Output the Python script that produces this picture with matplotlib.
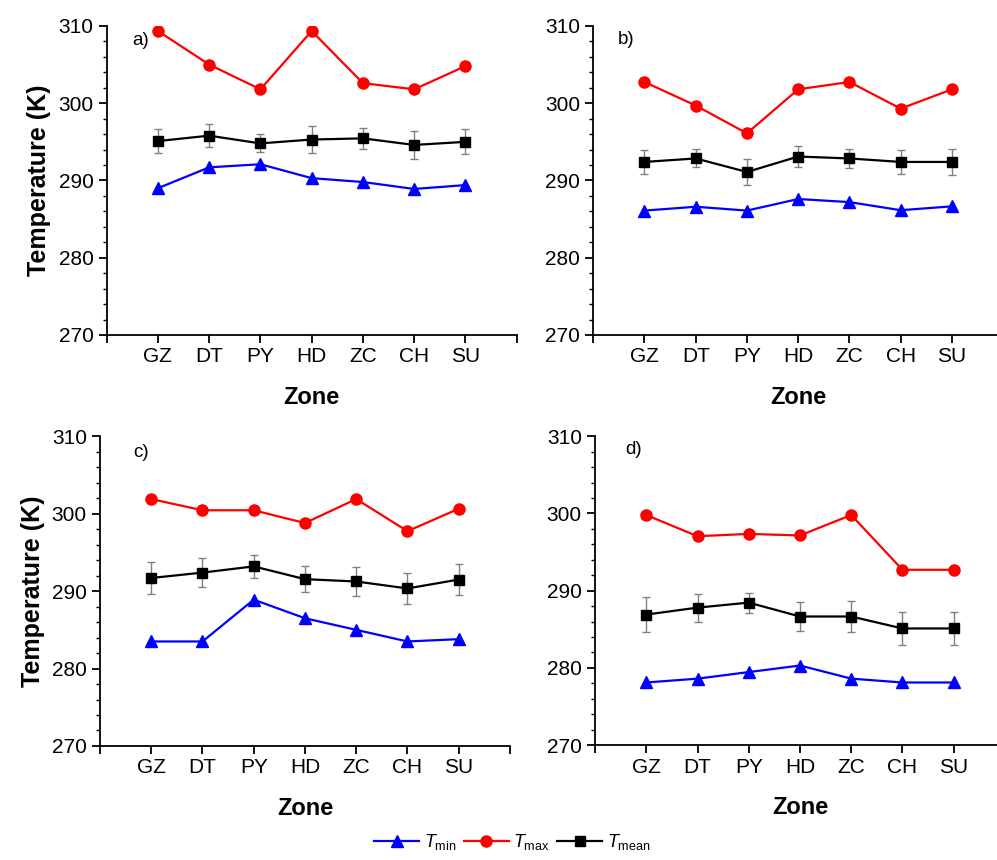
import numpy as np
import matplotlib
matplotlib.use("Agg")
import matplotlib.pyplot as plt

plt.rcParams['font.family'] = ['Liberation Sans', 'DejaVu Sans']
plt.rcParams['mathtext.fontset'] = 'custom'
plt.rcParams['mathtext.rm'] = 'Liberation Sans'
plt.rcParams['mathtext.it'] = 'Liberation Sans:italic'

zones = ['GZ', 'DT', 'PY', 'HD', 'ZC', 'CH', 'SU']
panel_labels = ['a)', 'b)', 'c)', 'd)']

# values (K)
tmax_a = [309.35, 305.0, 301.8, 309.35, 302.6, 301.8, 304.8]
tmean_a = [295.1, 295.8, 294.8, 295.3, 295.45, 294.6, 295.0]
err_a = [1.6, 1.5, 1.17, 1.7, 1.4, 1.86, 1.6]
tmin_a = [289.0, 291.7, 292.1, 290.3, 289.8, 288.9, 289.4]

tmax_b = [302.75, 299.7, 296.1, 301.8, 302.75, 299.3, 301.8]
tmean_b = [292.4, 292.85, 291.1, 293.1, 292.85, 292.4, 292.4]
err_b = [1.6, 1.17, 1.64, 1.38, 1.25, 1.6, 1.66]
tmin_b = [286.1, 286.6, 286.1, 287.6, 287.2, 286.15, 286.65]

tmax_c = [301.9, 300.45, 300.45, 298.8, 301.9, 297.75, 300.65]
tmean_c = [291.7, 292.4, 293.2, 291.55, 291.25, 290.35, 291.5]
err_c = [2.1, 1.9, 1.5, 1.67, 1.86, 2.0, 2.03]
tmin_c = [283.5, 283.5, 288.9, 286.5, 285.0, 283.5, 283.8]

tmax_d = [299.8, 297.05, 297.35, 297.15, 299.8, 292.7, 292.7]
tmean_d = [286.9, 287.8, 288.45, 286.65, 286.65, 285.1, 285.1]
err_d = [2.27, 1.8, 1.3, 1.9, 2.0, 2.18, 2.18]
tmin_d = [278.1, 278.6, 279.45, 280.3, 278.6, 278.1, 278.1]

panels = [
    (tmax_a, tmean_a, err_a, tmin_a),
    (tmax_b, tmean_b, err_b, tmin_b),
    (tmax_c, tmean_c, err_c, tmin_c),
    (tmax_d, tmean_d, err_d, tmin_d),
]

# axes rectangles in figure fractions (x range 0..8 spans 410 px)
rects = [
    [0.107, 0.6105, 0.4112, 0.3593],
    [0.595, 0.6105, 0.4112, 0.3593],
    [0.1003, 0.1326, 0.4112, 0.360],
    [0.5968, 0.1337, 0.4112, 0.359],
]
label_pos = [(0.5, 308.1), (0.48, 308.2), (0.64, 307.9), (0.59, 308.3)]

fig = plt.figure(figsize=(9.97, 8.6), dpi=100)
x = np.arange(1, len(zones) + 1)

for i, (tmax, tmean, err, tmin) in enumerate(panels):
    ax = fig.add_axes(rects[i])
    ax.errorbar(x, tmean, yerr=err, fmt='none', ecolor='#808080',
                elinewidth=1.0, capsize=3, capthick=1.0, zorder=2)
    l1, = ax.plot(x, tmin, color='#0000ff', marker='^', markersize=8.5, lw=1.6, zorder=3)
    l2, = ax.plot(x, tmax, color='#ff0000', marker='o', markersize=8, lw=1.6, zorder=3)
    l3, = ax.plot(x, tmean, color='black', marker='s', markersize=6.5, lw=1.6, zorder=3)

    ax.set_xlim(0, 8)
    ax.set_ylim(270, 310)
    ax.set_xticks(range(9))
    ax.set_xticklabels([''] + zones + [''])
    ax.set_yticks([270, 280, 290, 300, 310])
    ax.set_yticks(np.arange(270, 311, 2), minor=True)
    ax.tick_params(axis='both', which='major', direction='out', length=6,
                   width=1.3, labelsize=15)
    ax.tick_params(axis='y', which='minor', direction='out', length=3, width=1.0)
    ax.tick_params(axis='x', pad=3)
    for s in ['top', 'right']:
        ax.spines[s].set_visible(False)
    for s in ['left', 'bottom']:
        ax.spines[s].set_linewidth(1.3)
    ax.set_xlabel('Zone', fontsize=17, fontweight='bold', labelpad=14)
    if i % 2 == 0:
        ax.set_ylabel('Temperature (K)', fontsize=18, fontweight='bold', labelpad=5)
    ax.text(label_pos[i][0], label_pos[i][1], panel_labels[i], fontsize=13.5,
            ha='left', va='center')

fig.legend([l1, l2, l3],
           [r'$T_{\mathrm{min}}$', r'$T_{\mathrm{max}}$', r'$T_{\mathrm{mean}}$'],
           loc='center', bbox_to_anchor=(0.514, 0.021), ncol=3, frameon=False,
           fontsize=13, handlelength=2.5, columnspacing=0.4, handletextpad=0.25)

fig.savefig('out.png', dpi=100)
